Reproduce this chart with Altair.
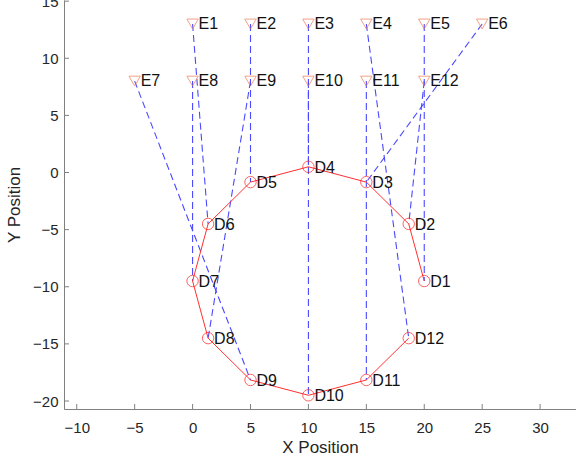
import altair as alt
import pandas as pd

# Detector points D1..D12
d_labels = ["D1", "D2", "D3", "D4", "D5", "D6", "D7", "D8", "D9", "D10", "D11", "D12"]
d_x = [20, 18.66, 15, 10, 5, 1.34, 0, 1.34, 5, 10, 15, 18.66]
d_y = [-9.5, -4.5, -0.84, 0.5, -0.84, -4.5, -9.5, -14.5, -18.16, -19.5, -18.16, -14.5]

# Emitter points E1..E12
e_labels = ["E1", "E2", "E3", "E4", "E5", "E6", "E7", "E8", "E9", "E10", "E11", "E12"]
e_x = [0, 5, 10, 15, 20, 25, -5, 0, 5, 10, 15, 20]
e_y = [13, 13, 13, 13, 13, 13, 8, 8, 8, 8, 8, 8]

# Which D each E is connected to
e_to_d = ["D6", "D5", "D10", "D12", "D1", "D3", "D9", "D7", "D8", "D4", "D11", "D2"]

x_ticks = [-10, -5, 0, 5, 10, 15, 20, 25, 30]
y_ticks = [-20, -15, -10, -5, 0, 5, 10, 15]
x_domain = [-11.1, 33.1]
y_domain = [-20.7, 15.1]

W, H = 512, 409
FONT = "Liberation Sans"

d_df = pd.DataFrame({"x": d_x, "y": d_y, "label": d_labels, "order": list(range(len(d_x)))})
e_df = pd.DataFrame({"x": e_x, "y": e_y, "label": e_labels})

rows = []
d_lookup = {l: (x, y) for l, x, y in zip(d_labels, d_x, d_y)}
for el, ex, ey, dl in zip(e_labels, e_x, e_y, e_to_d):
    dx, dy = d_lookup[dl]
    rows.append({"pair": el, "x": ex, "y": ey, "o": 0})
    rows.append({"pair": el, "x": dx, "y": dy, "o": 1})
seg_df = pd.DataFrame(rows)

xs = alt.Scale(domain=x_domain, nice=False, zero=False)
ys = alt.Scale(domain=y_domain, nice=False, zero=False)

x_axis = alt.Axis(values=x_ticks, title="X Position", grid=False, ticks=False, tickSize=0,
                  domainColor="#808080", labelColor="#262626", labelFont=FONT, labelFontSize=15,
                  labelPadding=11, titleFont=FONT, titleFontSize=17, titleFontWeight="normal",
                  titleColor="#262626", titlePadding=4)
y_axis = alt.Axis(values=y_ticks, title="Y Position", grid=False, ticks=False, tickSize=0,
                  domainColor="#808080", labelColor="#262626", labelFont=FONT, labelFontSize=15,
                  labelPadding=6, titleFont=FONT, titleFontSize=17, titleFontWeight="normal",
                  titleColor="#262626", titlePadding=9)

base_x = alt.X("x:Q", scale=xs, axis=x_axis)
base_y = alt.Y("y:Q", scale=ys, axis=y_axis)

segs = alt.Chart(seg_df).mark_line(color="#4a4aff", strokeWidth=1.1, strokeDash=[7, 4], clip=True).encode(
    x=base_x, y=base_y, detail="pair:N", order="o:Q"
)

ring = alt.Chart(d_df).mark_line(color="#ff3030", strokeWidth=1, clip=True).encode(
    x=alt.X("x:Q", scale=xs), y=alt.Y("y:Q", scale=ys), order="order:Q"
)

d_pts = alt.Chart(d_df).mark_point(shape="circle", filled=False, color="#ff2020", size=130,
                                   strokeWidth=1).encode(
    x=alt.X("x:Q", scale=xs), y=alt.Y("y:Q", scale=ys)
)
d_txt = alt.Chart(d_df).mark_text(align="left", baseline="middle", dx=6, dy=1, font=FONT,
                                  fontSize=16, color="#111111").encode(
    x=alt.X("x:Q", scale=xs), y=alt.Y("y:Q", scale=ys), text="label:N"
)

e_pts = alt.Chart(e_df).mark_point(shape="triangle-down", filled=False, color="#f07850", size=130,
                                   strokeWidth=1).encode(
    x=alt.X("x:Q", scale=xs), y=alt.Y("y:Q", scale=ys)
)
e_txt = alt.Chart(e_df).mark_text(align="left", baseline="middle", dx=6, dy=0, font=FONT,
                                  fontSize=16, color="#111111").encode(
    x=alt.X("x:Q", scale=xs), y=alt.Y("y:Q", scale=ys), text="label:N"
)

xt_df = pd.DataFrame({"v": x_ticks})
yt_df = pd.DataFrame({"v": y_ticks})
x_tick_marks = alt.Chart(xt_df).mark_rule(color="#808080", strokeWidth=1).encode(
    x=alt.X("v:Q", scale=xs), y=alt.value(H), y2=alt.value(H - 5)
)
y_tick_marks = alt.Chart(yt_df).mark_rule(color="#808080", strokeWidth=1).encode(
    y=alt.Y("v:Q", scale=ys), x=alt.value(0), x2=alt.value(5)
)

chart = alt.layer(segs, ring, d_pts, e_pts, d_txt, e_txt, x_tick_marks, y_tick_marks).properties(
    width=W, height=H,
    autosize=alt.AutoSizeParams(type="none"),
    padding={"left": 64, "top": 0, "right": 0, "bottom": 54},
    background="white",
).configure_view(stroke=None)

chart.save("out.html", embed_options={"renderer": "svg", "actions": False})
